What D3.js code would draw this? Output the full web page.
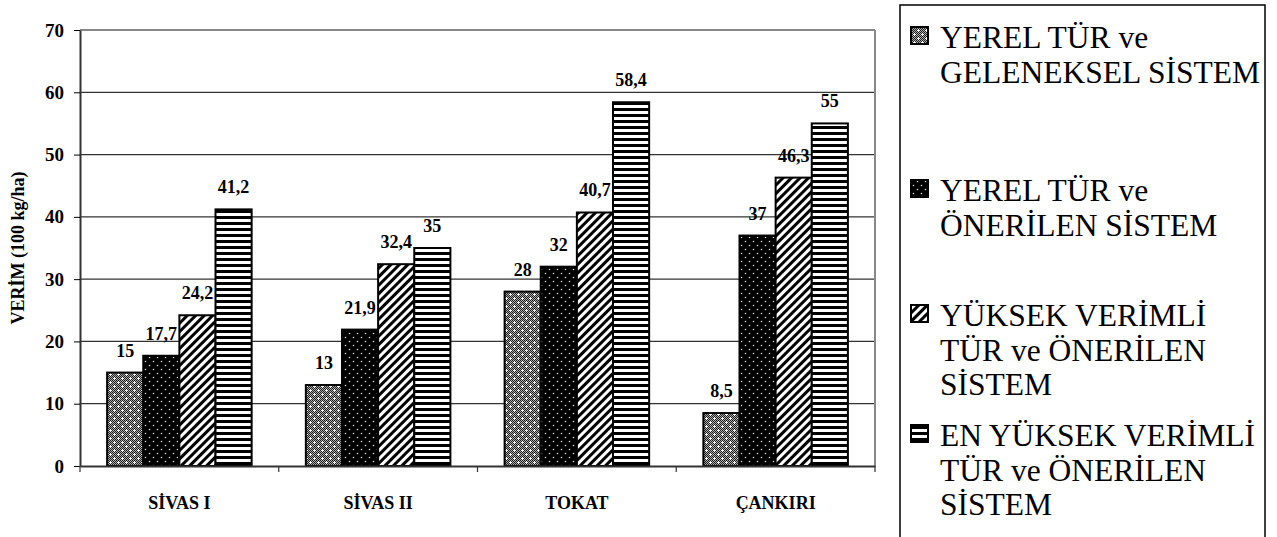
<!DOCTYPE html>
<html><head><meta charset="utf-8">
<script src="https://cdn.jsdelivr.net/npm/d3@7/dist/d3.min.js"></script>
<style>body{margin:0;background:#fff}svg{display:block}
svg text{font-family:"Liberation Serif","Times New Roman",Tinos,serif;}</style>
</head><body>
<svg id="c" width="1277" height="537"></svg>
<script>
const categories = ["SİVAS I", "SİVAS II", "TOKAT", "ÇANKIRI"];
const seriesNames = [
  ["YEREL TÜR ve", "GELENEKSEL SİSTEM"],
  ["YEREL TÜR ve", "ÖNERİLEN SİSTEM"],
  ["YÜKSEK VERİMLİ", "TÜR ve ÖNERİLEN", "SİSTEM"],
  ["EN YÜKSEK VERİMLİ", "TÜR ve ÖNERİLEN", "SİSTEM"]
];
const yerelGeleneksel = [15, 13, 28, 8.5];
const yerelOnerilen = [17.7, 21.9, 32, 37];
const yuksekVerimli = [24.2, 32.4, 40.7, 46.3];
const enYuksekVerimli = [41.2, 35, 58.4, 55];
const yTicks = [0, 10, 20, 30, 40, 50, 60, 70];
const yTitle = "VERİM (100 kg/ha)";

const series = [yerelGeleneksel, yerelOnerilen, yuksekVerimli, enYuksekVerimli];
const FONT = '"Liberation Serif","Times New Roman",Tinos,serif';
const svg = d3.select("#c");
const defs = svg.append("defs");

// pattern 0: fine gray checker with white crosses
const p0 = defs.append("pattern").attr("id","p0").attr("patternUnits","userSpaceOnUse").attr("width",8).attr("height",8);
p0.append("rect").attr("width",8).attr("height",8).attr("fill","#a8a8a8");
for (let i=0;i<8;i++) for (let j=0;j<8;j++) if ((i+j)%2===0)
  p0.append("rect").attr("x",i).attr("y",j).attr("width",1).attr("height",1).attr("fill","#222");
[[2,2],[6,6]].forEach(([cx,cy])=>{
  p0.append("rect").attr("x",cx-1).attr("y",cy).attr("width",3).attr("height",1).attr("fill","#fff");
  p0.append("rect").attr("x",cx).attr("y",cy-1).attr("width",1).attr("height",3).attr("fill","#fff");
});
// pattern 1: black with white dots
const p1 = defs.append("pattern").attr("id","p1").attr("patternUnits","userSpaceOnUse").attr("width",8).attr("height",8);
p1.append("rect").attr("width",8).attr("height",8).attr("fill","#000");
[[1.5,1.5],[5.5,5.5]].forEach(([cx,cy])=>p1.append("circle").attr("cx",cx).attr("cy",cy).attr("r",0.8).attr("fill","#ddd"));
// pattern 2: diagonal
const p2 = defs.append("pattern").attr("id","p2").attr("patternUnits","userSpaceOnUse").attr("width",6).attr("height",6).attr("patternTransform","rotate(45)");
p2.append("rect").attr("width",6).attr("height",6).attr("fill","#fff");
p2.append("rect").attr("width",3).attr("height",6).attr("fill","#000");
// pattern 3: horizontal stripes
const p3 = defs.append("pattern").attr("id","p3").attr("patternUnits","userSpaceOnUse").attr("width",6).attr("height",6);
p3.append("rect").attr("width",6).attr("height",6).attr("fill","#fff");
p3.append("rect").attr("y",0).attr("width",6).attr("height",3).attr("fill","#000");

const fills = ["url(#p0)","url(#p1)","url(#p2)","url(#p3)"];

const L = 80, R = 875, T = 30, B = 466;
const x0 = d3.scaleBand().domain(categories).range([L,R]).paddingInner(1.5/5.5).paddingOuter(0.75/5.5);
const x1 = d3.scaleBand().domain(d3.range(series.length)).range([0,x0.bandwidth()]);
const y = d3.scaleLinear().domain([0,70]).range([B,T]);

// gridlines
svg.append("g").selectAll("line").data(yTicks.filter(d=>d>0)).join("line")
  .attr("x1",L).attr("x2",R).attr("y1",d=>y(d)).attr("y2",d=>y(d))
  .attr("stroke",d=>d===70?"#888":"#333").attr("stroke-width",d=>d===70?2:1.2);
// right border
svg.append("line").attr("x1",R).attr("x2",R).attr("y1",T).attr("y2",B).attr("stroke","#888").attr("stroke-width",2);

// bars
const gBars = svg.append("g");
series.forEach((vals,si)=>{
  gBars.append("g").selectAll("rect").data(vals).join("rect")
    .attr("x",(d,i)=>x0(categories[i])+x1(si))
    .attr("y",d=>y(d)).attr("width",x1.bandwidth()).attr("height",d=>B-y(d))
    .attr("fill",fills[si]).attr("stroke","#000").attr("stroke-width",2);
});
// labels
const fmt = v => String(v).replace(".",",");
series.forEach((vals,si)=>{
  svg.append("g").selectAll("text").data(vals).join("text")
    .attr("x",(d,i)=>x0(categories[i])+x1(si)+x1.bandwidth()/2)
    .attr("y",d=>y(d)-16)
    .attr("text-anchor","middle").style("font-family",FONT).attr("font-weight","bold").attr("font-size",18)
    .text(d=>fmt(d));
});

// y axis
const ya = svg.append("g").attr("transform",`translate(${L},0)`).call(d3.axisLeft(y).tickValues(yTicks).tickSize(6).tickSizeOuter(0));
ya.attr("font-family",null).attr("font-size",null);
ya.select(".domain").attr("stroke","#333").attr("stroke-width",2);
ya.selectAll(".tick line").attr("stroke","#000");
ya.selectAll("text").style("font-family",FONT).attr("font-weight","bold").attr("font-size",19).attr("fill","#000").attr("x",-16);

// x axis
const xa = svg.append("g").attr("transform",`translate(0,${B})`).call(d3.axisBottom(x0).tickSize(0).tickSizeOuter(0));
xa.attr("font-family",null).attr("font-size",null);
xa.select(".domain").attr("stroke","#333").attr("stroke-width",2);
xa.selectAll("text").style("font-family",FONT).attr("font-weight","bold").attr("font-size",18).attr("fill","#000").attr("dy",0).attr("y",43);
svg.append("g").selectAll("line").data(d3.range(categories.length+1)).join("line")
  .attr("x1",i=>L+i*(R-L)/categories.length).attr("x2",i=>L+i*(R-L)/categories.length)
  .attr("y1",B).attr("y2",B+6).attr("stroke","#333").attr("stroke-width",1.2);

// y title
svg.append("text").attr("transform",`translate(24,${(T+B)/2}) rotate(-90)`)
  .attr("text-anchor","middle").style("font-family",FONT).attr("font-weight","bold").attr("font-size",18)
  .text(yTitle);

// legend
const lg = svg.append("g");
lg.append("rect").attr("x",900).attr("y",5).attr("width",365).attr("height",545).attr("fill","none").attr("stroke","#000").attr("stroke-width",1.5);
const entryTop = [48, 201, 326, 446];
const lineH = 34.5;
seriesNames.forEach((lines,si)=>{
  const by = entryTop[si];
  lg.append("rect").attr("x",911).attr("y",by-21).attr("width",17).attr("height",17)
    .attr("fill",fills[si]).attr("stroke","#000").attr("stroke-width",2);
  lines.forEach((t,li)=>{
    lg.append("text").attr("x",940).attr("y",by+li*lineH)
      .style("font-family",FONT).attr("font-size",31.5).attr("fill","#000").text(t);
  });
});
</script>
</body></html>
